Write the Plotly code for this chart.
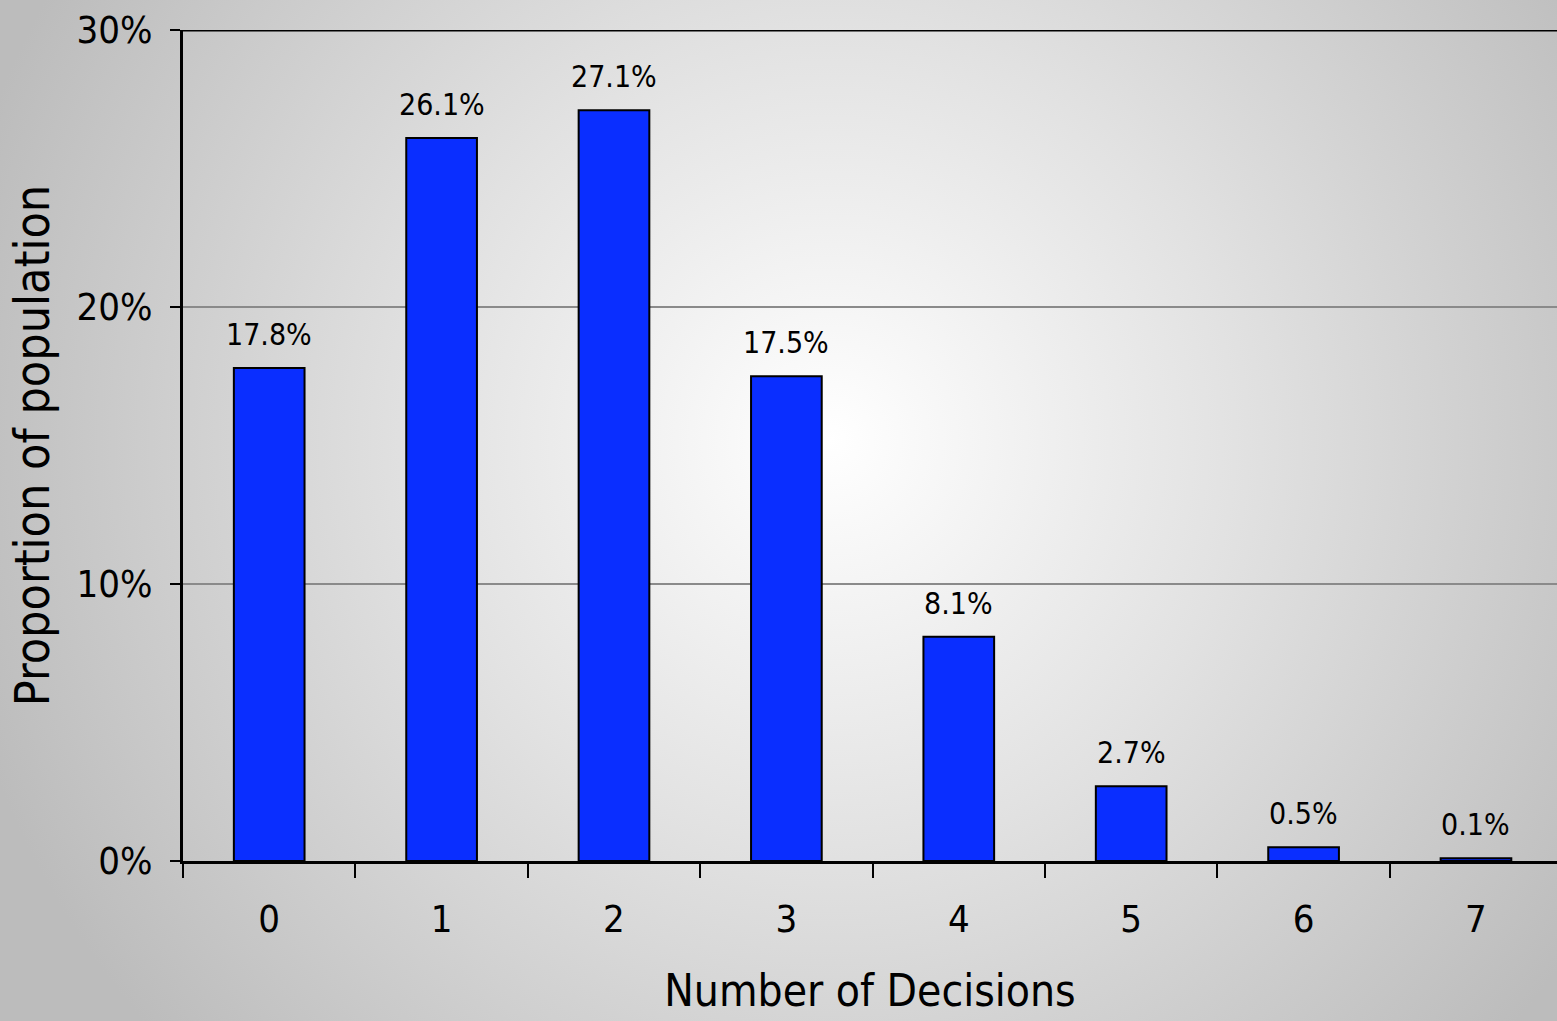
import base64
import plotly.graph_objects as go

# Distribution of the number of decisions
decisions = ["0", "1", "2", "3", "4", "5", "6", "7"]
shares = [17.8, 26.1, 27.1, 17.5, 8.1, 2.7, 0.5, 0.1]
y_ticks = [0, 10, 20, 30]
y_tick_text = ["0%", "10%", "20%", "30%"]

FONT = "Liberation Sans Narrow, DejaVu Sans Condensed, Liberation Sans, sans-serif"

# Radial grey-to-white backdrop drawn as an SVG image behind the plot
bg_svg = """<svg xmlns='http://www.w3.org/2000/svg' width='1557' height='1021'>
<defs><radialGradient id='g' cx='830' cy='440' r='900' gradientUnits='userSpaceOnUse'>
<stop offset='0' stop-color='#ffffff'/>
<stop offset='0.45' stop-color='#e2e2e2'/>
<stop offset='1' stop-color='#bcbcbc'/>
</radialGradient></defs>
<rect width='1557' height='1021' fill='url(#g)'/></svg>"""
bg_uri = "data:image/svg+xml;base64," + base64.b64encode(bg_svg.encode()).decode()

fig = go.Figure()
fig.add_trace(go.Bar(
    x=decisions, y=shares, width=0.41,
    marker=dict(color="#0a2eff", line=dict(color="#000000", width=2)),
    hoverinfo="skip",
))

for d, v in zip(decisions, shares):
    fig.add_annotation(
        x=d, y=v, text=f"{v:.1f}%", showarrow=False,
        yanchor="bottom", yshift=14,
        font=dict(family=FONT, size=30, color="#000000"),
    )

# Top border line at 30%
fig.add_shape(type="line", xref="paper", yref="y", x0=0, x1=1, y0=30, y1=30,
              line=dict(color="#000000", width=3))

fig.update_layout(
    width=1557, height=1021,
    margin=dict(l=183, r=0, t=30, b=160),
    paper_bgcolor="rgba(0,0,0,0)",
    plot_bgcolor="rgba(0,0,0,0)",
    showlegend=False,
    font=dict(family=FONT, color="#000000"),
    images=[dict(source=bg_uri, xref="paper", yref="paper",
                 x=-183 / 1374, y=1 + 30 / 831,
                 sizex=1557 / 1374, sizey=1021 / 831,
                 xanchor="left", yanchor="top", sizing="stretch", layer="below")],
    xaxis=dict(
        type="category", range=[-0.5, 7.47],
        tickson="boundaries", ticks="outside", ticklen=14, tickwidth=2, tickcolor="#000000",
        showline=True, linecolor="#000000", linewidth=3,
        showgrid=False, zeroline=False,
        tickfont=dict(family=FONT, size=38),
        ticklabelstandoff=22,
        title=dict(text="Number of Decisions", font=dict(family=FONT, size=44), standoff=36),
    ),
    yaxis=dict(
        range=[0, 30], tickvals=y_ticks, ticktext=y_tick_text,
        ticks="outside", ticklen=10, tickwidth=2, tickcolor="#000000",
        showline=True, linecolor="#000000", linewidth=3,
        showgrid=True, gridcolor="#8a8a8a", gridwidth=2,
        zeroline=False,
        tickfont=dict(family=FONT, size=38),
        ticklabelstandoff=10,
        title=dict(text="Proportion of population", font=dict(family=FONT, size=48), standoff=12),
    ),
)

fig.write_html("out.html")
